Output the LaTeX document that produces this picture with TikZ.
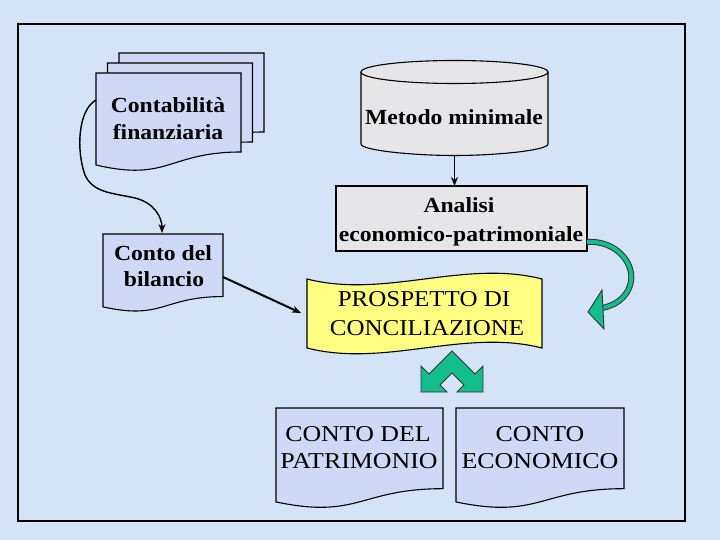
\documentclass[tikz,border=0pt]{standalone}
\usepackage{fontspec}
\setmainfont{Liberation Serif}
\newfontfamily\wideserif[FakeStretch=1.1]{Liberation Serif}
\newfontfamily\widercaps[FakeStretch=1.14]{Liberation Serif}
\usetikzlibrary{arrows.meta}
\definecolor{bgblue}{RGB}{212,228,246}
\definecolor{docfill}{RGB}{207,216,244}
\definecolor{marble}{RGB}{230,230,232}
\definecolor{flagyellow}{RGB}{255,255,130}
\definecolor{arrowgreen}{RGB}{20,190,140}
\newcommand\docshape[4]{%
  \draw[docbox] (#1,#2) -- ({#1+#3},#2) -- ({#1+#3},{#2+0.802*#4})
    .. controls ({#1+0.5*#3},{#2+0.802*#4}) and ({#1+0.5*#3},{#2+1.107*#4}) ..
    (#1,{#2+0.934*#4}) -- cycle;}
\begin{document}
\begin{tikzpicture}[x=1pt,y=-1pt,
  docbox/.style={draw=black,line width=1.1pt,fill=docfill},
  marblebox/.style={draw=black,line width=1.1pt,fill=marble},
  boldtxt/.style={font=\wideserif\bfseries\fontsize{21.5}{27}\selectfont,anchor=base,inner sep=0pt},
  captxt/.style={font=\wideserif\fontsize{22.7}{28}\selectfont,anchor=base,inner sep=0pt},
  wcaptxt/.style={font=\widercaps\fontsize{22.7}{28}\selectfont,anchor=base,inner sep=0pt},
  link/.style={draw=black,line width=1.6pt,-{Stealth[length=9pt,width=7pt]}},
  greenshape/.style={draw=black!80,line width=0.9pt,fill=arrowgreen}]
\fill[bgblue] (0,0) rectangle (720,540);
\useasboundingbox (0,0) rectangle (720,540);
\draw[line width=1.3pt] (18,24) rectangle (685,521);

% Contabilita finanziaria (stacked pages)
\docshape{119}{53}{145}{98.5}
\docshape{107.5}{63}{145}{98.5}
\docshape{96}{73}{145}{98.5}
\node[boldtxt] (cf1) at (168,112.5) {Contabilità};
\node[boldtxt] (cf2) at (168,139.5) {finanziaria};
\coordinate (cf-w) at (96,100);

% Conto del bilancio
\docshape{103}{234}{120}{78}
\node[boldtxt] (cb1) at (163,260) {Conto del};
\node[boldtxt] (cb2) at (164,286.5) {bilancio};
\coordinate (cb-n) at (162,233);
\coordinate (cb-e) at (223,277);

% Metodo minimale cylinder
\fill[marble] (361,72) -- (361,144)
  .. controls (361,150.35) and (412.86,155.5) .. (454.5,155.5)
  .. controls (496.14,155.5) and (548,150.35) .. (548,144) -- (548,72) -- cycle;
\draw[line width=1.1pt] (361,72) -- (361,144)
  .. controls (361,150.35) and (412.86,155.5) .. (454.5,155.5)
  .. controls (496.14,155.5) and (548,150.35) .. (548,144) -- (548,72);
\draw[marblebox] (454.5,72) ellipse [x radius=93.5, y radius=11.5];
\node[boldtxt] (mm) at (454,125) {Metodo minimale};
\coordinate (cyl-s) at (454.5,155.5);

% Analisi box
\draw[marblebox] (336,186) rectangle (587,251);
\node[boldtxt] (an1) at (459,213) {Analisi};
\node[boldtxt] (an2) at (461,241.5) {economico-patrimoniale};
\coordinate (ana-n) at (454.5,186);
\coordinate (ana-e) at (587,242);

% Prospetto banner
\draw[line width=1.1pt,fill=flagyellow] (307,279)
  .. controls (385,299) and (464,259) .. (542,279)
  -- (542,348)
  .. controls (464,328) and (385,368) .. (307,348) -- cycle;
\node[captxt] (pc1) at (424,306.5) {PROSPETTO DI};
\node[captxt] (pc2) at (427,335) {CONCILIAZIONE};
\coordinate (pc-w) at (301,313);

% Conto del patrimonio / Conto economico
\docshape{276}{408}{167}{100.6}
\docshape{456}{408}{168}{100.6}
\node[wcaptxt] (pt1) at (358,441.5) {CONTO DEL};
\node[wcaptxt] (pt2) at (359,468.5) {PATRIMONIO};
\node[wcaptxt] (ec1) at (540,441.5) {CONTO};
\node[wcaptxt] (ec2) at (540,468.5) {ECONOMICO};

% connectors
\draw[link,line width=1.4pt] (cf-w) .. controls (78,110) and (76,150) .. (85,175)
  .. controls (93,193) and (113,193) .. (135,198)
  .. controls (155,203) and (162,218) .. (cb-n);
\draw[link,line width=2pt] (cb-e) -- (pc-w);
\draw[link,line width=1.4pt] (cyl-s) -- (ana-n);

% green curved arrow
\coordinate (gc-end) at (602,308);
\draw[line width=6pt,black!80] (ana-e) .. controls (615,240) and (634,262) .. (631,281)
  .. controls (628,299) and (613,306) .. (gc-end);
\draw[line width=4pt,arrowgreen] (ana-e) .. controls (615,240) and (634,262) .. (631,281)
  .. controls (628,299) and (613,306) .. (gc-end);
\draw[greenshape] (602,290) -- (588,312) -- (604,329) -- cycle;

% green double arrow
\draw[greenshape] (452,351) -- (475,374) -- (483,366) -- (483,392) -- (457,392)
  -- (464,385) -- (452,373) -- (440,385) -- (447,392) -- (421,392)
  -- (421,366) -- (429,374) -- cycle;
\end{tikzpicture}
\end{document}
